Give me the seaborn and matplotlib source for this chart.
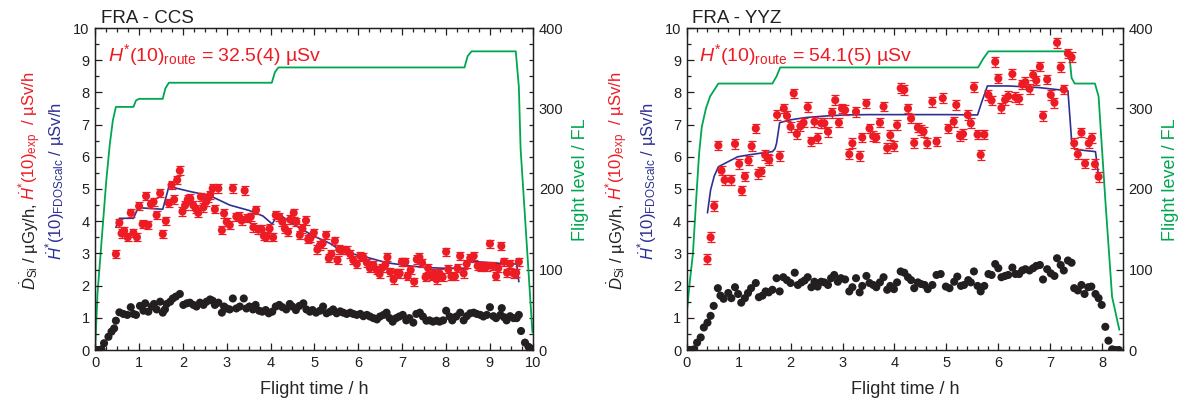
import matplotlib
matplotlib.use("Agg")
import matplotlib.pyplot as plt
import seaborn as sns
from matplotlib.ticker import MultipleLocator

# ---------------- FRA - CCS ----------------
ccs_t_fl = [0.0, 0.05, 0.15, 0.25, 0.33, 0.40, 0.47, 0.87, 0.93, 1.00, 1.54, 1.60, 1.68,
            4.03, 4.10, 4.18, 8.43, 8.50, 8.59, 9.60, 9.67, 9.71, 9.98]
ccs_fl = [5, 70, 140, 210, 255, 285, 302, 302, 310, 312, 312, 325, 332,
          332, 345, 351, 351, 365, 371, 371, 327, 250, 22]

ccs_t_dsi = [0.02, 0.06, 0.10, 0.14, 0.20, 0.30, 0.37, 0.43, 0.47, 0.55, 0.64, 0.73, 0.81, 0.87,
             0.93, 1.02, 1.10, 1.14, 1.21, 1.29, 1.34, 1.40, 1.48, 1.54, 1.59, 1.63, 1.71, 1.77,
             1.84, 1.93, 2.01, 2.09, 2.16, 2.24, 2.31, 2.39, 2.47, 2.54, 2.62, 2.68, 2.73, 2.81,
             2.89, 2.94, 3.00, 3.07, 3.14, 3.22, 3.30, 3.39, 3.45, 3.52, 3.60, 3.66, 3.74, 3.81,
             3.89, 3.96, 4.04, 4.12, 4.20, 4.27, 4.36, 4.44, 4.50, 4.58, 4.66, 4.75, 4.82, 4.90,
             4.96, 5.04, 5.13, 5.20, 5.28, 5.36, 5.43, 5.51, 5.59, 5.66, 5.74, 5.82, 5.89, 5.97,
             6.05, 6.12, 6.20, 6.27, 6.35, 6.43, 6.50, 6.58, 6.65, 6.72, 6.79, 6.87, 6.94, 7.02,
             7.10, 7.17, 7.26, 7.33, 7.41, 7.48, 7.56, 7.63, 7.71, 7.79, 7.86, 7.94, 8.01, 8.09,
             8.15, 8.24, 8.33, 8.41, 8.48, 8.56, 8.64, 8.71, 8.79, 8.86, 8.94, 9.01, 9.09, 9.15,
             9.25, 9.28, 9.33, 9.39, 9.47, 9.55, 9.62, 9.67, 9.72, 9.81, 9.89, 9.94]
ccs_dsi = [0.00, 0.00, 0.00, 0.02, 0.21, 0.41, 0.57, 0.67, 0.91, 1.17, 1.12, 1.09, 1.33, 1.12,
           1.09, 1.37, 1.22, 1.45, 1.19, 1.35, 1.43, 1.26, 1.50, 1.16, 1.26, 1.43, 1.50, 1.60,
           1.66, 1.74, 1.40, 1.45, 1.47, 1.40, 1.35, 1.47, 1.40, 1.50, 1.57, 1.53, 1.40, 1.47,
           1.16, 1.35, 1.29, 1.26, 1.60, 1.29, 1.35, 1.60, 1.29, 1.35, 1.26, 1.40, 1.22, 1.19,
           1.24, 1.14, 1.19, 1.35, 1.40, 1.33, 1.26, 1.43, 1.35, 1.24, 1.37, 1.45, 1.26, 1.19,
           1.24, 1.16, 1.22, 1.35, 1.14, 1.19, 1.26, 1.14, 1.20, 1.16, 1.12, 1.16, 1.12, 1.09,
           1.12, 1.05, 1.09, 1.04, 0.99, 0.95, 1.04, 1.09, 1.16, 0.99, 0.88, 0.99, 1.04, 1.09,
           0.92, 0.99, 0.85, 1.12, 1.16, 1.04, 0.91, 0.92, 0.88, 0.91, 0.88, 0.92, 1.22, 1.04,
           0.92, 1.04, 1.16, 0.92, 1.05, 1.14, 1.16, 1.12, 1.09, 1.04, 1.09, 1.33, 1.05, 0.99,
           1.09, 1.30, 1.02, 0.92, 1.05, 0.99, 0.99, 1.09, 0.59, 0.23, 0.10, 0.05]

ccs_t_exp = [0.47, 0.55, 0.60, 0.66, 0.74, 0.81, 0.87, 0.95, 1.00, 1.08, 1.16, 1.21, 1.27, 1.33,
             1.40, 1.48, 1.54, 1.61, 1.68, 1.74, 1.80, 1.87, 1.93, 1.99, 2.05, 2.11, 2.17, 2.24,
             2.30, 2.35, 2.41, 2.47, 2.53, 2.58, 2.62, 2.68, 2.73, 2.81, 2.89, 2.94, 3.00, 3.07,
             3.14, 3.22, 3.28, 3.34, 3.41, 3.47, 3.55, 3.61, 3.67, 3.72, 3.80, 3.85, 3.91, 3.98,
             4.06, 4.12, 4.20, 4.27, 4.33, 4.40, 4.45, 4.53, 4.59, 4.67, 4.73, 4.81, 4.86, 4.91,
             4.99, 5.07, 5.13, 5.19, 5.27, 5.33, 5.39, 5.47, 5.53, 5.57, 5.63, 5.74, 5.82, 5.89,
             5.97, 6.05, 6.12, 6.20, 6.27, 6.35, 6.43, 6.49, 6.54, 6.62, 6.67, 6.73, 6.81, 6.89,
             6.95, 7.00, 7.08, 7.13, 7.20, 7.28, 7.34, 7.40, 7.46, 7.54, 7.60, 7.68, 7.73, 7.79,
             7.86, 7.93, 8.01, 8.06, 8.13, 8.21, 8.27, 8.33, 8.41, 8.48, 8.56, 8.64, 8.73, 8.80,
             8.86, 8.94, 9.01, 9.07, 9.15, 9.20, 9.27, 9.33, 9.40, 9.47, 9.55, 9.61, 9.67]
ccs_exp = [2.98, 3.95, 3.62, 3.70, 3.50, 4.26, 3.64, 3.50, 4.47, 3.91, 4.78, 3.88, 4.53, 4.60,
           4.19, 4.87, 3.60, 4.01, 4.56, 5.12, 4.67, 5.28, 5.57, 4.30, 4.49, 4.67, 4.70, 4.49,
           4.38, 4.26, 4.76, 4.43, 4.60, 4.73, 4.81, 5.02, 4.37, 5.02, 3.72, 4.24, 3.98, 3.88,
           5.02, 4.14, 4.16, 4.02, 4.95, 4.09, 4.14, 3.81, 4.35, 3.74, 3.74, 3.54, 3.52, 3.77,
           3.50, 4.19, 4.14, 3.98, 3.77, 3.67, 4.05, 4.26, 3.98, 3.57, 3.77, 4.02, 3.44, 3.47,
           3.64, 3.12, 3.25, 3.31, 3.57, 2.85, 2.98, 3.39, 2.79, 3.12, 3.10, 3.10, 2.98, 2.79,
           2.67, 2.92, 2.88, 2.71, 2.54, 2.64, 2.48, 2.36, 2.54, 2.64, 2.88, 2.43, 2.19, 2.40,
           2.38, 2.74, 2.74, 2.29, 2.48, 2.12, 2.81, 2.88, 2.71, 2.26, 2.54, 2.29, 2.38, 2.19,
           2.38, 2.26, 3.05, 2.51, 2.29, 2.29, 2.54, 2.92, 2.38, 2.67, 2.85, 2.92, 2.61, 2.59,
           2.61, 2.59, 3.30, 2.61, 2.29, 2.54, 3.23, 2.74, 2.40, 2.67, 2.38, 2.40, 2.74]
ccs_err = 0.13

ccs_t_calc = [0.47, 0.55, 0.87, 0.98, 1.54, 1.68, 2.17, 2.62, 3.07, 3.52, 3.83, 4.04, 4.17,
              4.44, 4.75, 5.05, 5.36, 5.57, 5.66, 5.89, 6.20, 6.65, 7.19, 7.57, 7.95, 8.44,
              8.56, 8.71, 9.25, 9.62, 9.67]
ccs_calc = [3.81, 4.09, 4.09, 4.42, 4.37, 5.08, 4.92, 4.79, 4.50, 4.33, 4.16, 3.91, 4.24,
            3.98, 3.72, 3.50, 3.31, 3.12, 3.13, 2.98, 2.88, 2.71, 2.61, 2.56, 2.54, 2.54,
            2.78, 2.74, 2.69, 2.67, 2.12]

# ---------------- FRA - YYZ ----------------
yyz_t_fl = [0.0, 0.06, 0.12, 0.19, 0.24, 0.29, 0.37, 0.45, 0.61, 1.65, 1.73, 1.80, 5.61, 5.71,
            5.81, 7.36, 7.41, 7.47, 7.86, 7.93, 8.06, 8.19, 8.33]
yyz_fl = [45, 85, 120, 195, 245, 277, 300, 315, 331, 331, 340, 351, 351, 362,
          371, 371, 338, 331, 331, 315, 186, 66, 25]

yyz_t_dsi = [0.02, 0.06, 0.10, 0.14, 0.20, 0.27, 0.33, 0.40, 0.46, 0.52, 0.60, 0.65, 0.71, 0.80,
             0.86, 0.93, 0.99, 1.05, 1.12, 1.18, 1.24, 1.33, 1.39, 1.46, 1.52, 1.58, 1.65, 1.73,
             1.79, 1.86, 1.93, 2.00, 2.08, 2.14, 2.21, 2.27, 2.33, 2.40, 2.46, 2.52, 2.59, 2.65,
             2.72, 2.78, 2.84, 2.91, 2.97, 3.05, 3.13, 3.19, 3.26, 3.33, 3.38, 3.46, 3.52, 3.59,
             3.65, 3.72, 3.79, 3.86, 3.92, 3.99, 4.05, 4.12, 4.19, 4.26, 4.32, 4.38, 4.45, 4.51,
             4.58, 4.64, 4.73, 4.81, 4.89, 4.99, 5.06, 5.15, 5.21, 5.28, 5.34, 5.42, 5.47, 5.53,
             5.60, 5.66, 5.73, 5.81, 5.87, 5.94, 6.00, 6.06, 6.13, 6.19, 6.27, 6.33, 6.40, 6.46,
             6.52, 6.60, 6.67, 6.73, 6.80, 6.86, 6.94, 7.01, 7.08, 7.13, 7.20, 7.26, 7.34, 7.41,
             7.46, 7.53, 7.60, 7.66, 7.73, 7.79, 7.87, 7.93, 7.99, 8.06, 8.12, 8.19, 8.25, 8.32]
yyz_dsi = [0.00, 0.00, 0.00, 0.02, 0.23, 0.39, 0.70, 0.85, 1.06, 1.37, 1.92, 1.69, 1.59, 1.77,
           1.61, 1.95, 1.74, 1.47, 1.61, 1.77, 1.92, 2.08, 1.64, 1.69, 1.82, 1.79, 1.87, 2.23,
           1.82, 2.26, 2.17, 2.08, 2.40, 2.02, 2.10, 2.16, 2.26, 1.95, 2.12, 1.97, 2.12, 2.10,
           2.02, 2.23, 2.33, 2.12, 2.23, 2.19, 1.82, 1.95, 2.23, 1.79, 1.99, 2.30, 2.08, 2.02,
           1.95, 2.10, 2.26, 1.87, 1.99, 1.89, 2.10, 2.44, 2.40, 2.26, 2.17, 1.92, 2.10, 2.05,
           2.02, 1.89, 2.02, 2.33, 2.36, 1.97, 1.92, 2.12, 2.28, 1.99, 2.02, 2.17, 2.10, 2.44,
           1.99, 1.82, 1.99, 2.36, 2.33, 2.67, 2.54, 2.26, 2.30, 2.33, 2.56, 2.36, 2.36, 2.47,
           2.51, 2.47, 2.54, 2.61, 2.64, 2.19, 2.51, 2.38, 2.30, 2.85, 2.64, 2.47, 2.78, 2.71,
           1.92, 1.85, 2.02, 1.74, 1.95, 1.97, 1.74, 1.61, 1.40, 0.72, 0.29, 0.02, 0.00, 0.00]

yyz_t_exp = [0.40, 0.46, 0.53, 0.61, 0.67, 0.73, 0.86, 0.93, 1.01, 1.06, 1.12, 1.19, 1.25, 1.33,
             1.38, 1.44, 1.51, 1.56, 1.59, 1.74, 1.79, 1.87, 1.93, 2.00, 2.06, 2.12, 2.19, 2.25,
             2.33, 2.40, 2.46, 2.52, 2.59, 2.65, 2.72, 2.80, 2.86, 2.93, 2.99, 3.05, 3.13, 3.19,
             3.26, 3.33, 3.38, 3.46, 3.52, 3.59, 3.65, 3.72, 3.79, 3.86, 3.92, 3.99, 4.05, 4.12,
             4.19, 4.26, 4.32, 4.38, 4.45, 4.51, 4.56, 4.63, 4.73, 4.81, 4.93, 5.04, 5.14, 5.19,
             5.26, 5.32, 5.41, 5.47, 5.53, 5.60, 5.66, 5.73, 5.81, 5.87, 5.94, 6.00, 6.06, 6.13,
             6.19, 6.27, 6.33, 6.40, 6.46, 6.52, 6.60, 6.67, 6.73, 6.80, 6.86, 6.94, 7.01, 7.08,
             7.13, 7.20, 7.26, 7.34, 7.41, 7.46, 7.53, 7.60, 7.67, 7.74, 7.80, 7.86, 7.93]
yyz_exp = [2.82, 3.50, 4.47, 6.35, 5.57, 5.28, 5.28, 6.40, 5.78, 4.95, 5.39, 5.88, 6.33, 6.88,
           5.47, 5.54, 6.06, 5.95, 5.91, 7.30, 6.02, 7.50, 7.27, 6.93, 7.97, 6.71, 6.95, 7.06,
           7.54, 6.48, 7.09, 6.58, 7.04, 7.04, 6.78, 7.37, 7.76, 7.06, 7.50, 7.45, 6.08, 6.42,
           7.40, 6.02, 6.60, 7.66, 6.88, 6.64, 6.60, 7.06, 7.56, 6.27, 6.67, 6.33, 6.98, 8.13,
           8.08, 7.50, 7.19, 6.43, 6.91, 6.84, 6.78, 6.42, 7.71, 6.47, 7.82, 6.88, 7.09, 7.61,
           6.65, 6.71, 7.30, 7.04, 8.16, 6.69, 6.06, 6.69, 7.92, 7.75, 8.95, 8.43, 7.52, 7.77,
           7.88, 8.57, 7.85, 7.80, 8.25, 8.32, 8.11, 8.54, 8.37, 8.80, 7.27, 8.40, 7.92, 7.68,
           9.54, 8.78, 8.09, 9.21, 9.09, 6.42, 6.08, 6.75, 5.79, 6.42, 6.58, 5.77, 5.38]
yyz_err = 0.15

yyz_t_calc = [0.40, 0.46, 0.53, 0.61, 0.80, 0.98, 1.20, 1.41, 1.65, 1.70, 1.73, 1.79, 2.00,
              2.30, 2.70, 3.07, 3.50, 4.00, 4.50, 5.00, 5.60, 5.68, 5.79, 6.20, 6.78, 7.34,
              7.41, 7.47, 7.87, 7.93]
yyz_calc = [4.26, 4.97, 5.40, 5.69, 5.85, 6.00, 6.06, 6.11, 6.16, 6.25, 6.42, 7.06, 7.15,
            7.22, 7.27, 7.30, 7.31, 7.31, 7.31, 7.31, 7.30, 7.70, 8.20, 8.20, 8.15, 8.05,
            6.52, 6.23, 6.16, 5.38]

# ---------------- styling ----------------
RED = "#ED1C24"
BLUE = "#2E3192"
GREEN = "#00A651"
INK = "#231F20"
TICK_FS = 10.5
LABEL_FS = 13
YLABEL_FS = 12

sns.set_theme(style="ticks")
plt.rcParams.update({
    "font.family": ["Liberation Sans", "DejaVu Sans"],
    "mathtext.fontset": "custom",
    "mathtext.rm": "Liberation Sans",
    "mathtext.it": "Liberation Sans:italic",
    "mathtext.bf": "Liberation Sans:bold",
    "axes.edgecolor": INK,
    "axes.linewidth": 0.9,
    "text.color": INK,
    "xtick.color": INK,
    "ytick.color": INK,
})

W, H = 1181, 405
fig = plt.figure(figsize=(W / 100, H / 100), dpi=100)
fig.patch.set_facecolor("white")

ax_l = fig.add_axes([95.3 / W, 55 / H, 438 / W, 322 / H])
ax_r = fig.add_axes([686.7 / W, 55 / H, 436.3 / W, 322 / H])


def draw_panel(ax, t_fl, fl, t_dsi, dsi, t_exp, hexp, herr, t_calc, hcalc,
               xmax, xminor, title, route):
    ax2 = ax.twinx()
    sns.lineplot(x=t_fl, y=fl, ax=ax2, color=GREEN, lw=1.3, sort=False,
                 estimator=None)
    ax.set_zorder(ax2.get_zorder() + 1)
    ax.patch.set_visible(False)

    sns.lineplot(x=t_calc, y=hcalc, ax=ax, color=BLUE, lw=1.2, sort=False,
                 estimator=None, zorder=2)
    ax.errorbar(t_exp, hexp, yerr=herr, fmt="none", ecolor=RED, elinewidth=0.9,
                capsize=2.6, capthick=0.9, zorder=3)
    sns.scatterplot(x=t_exp, y=hexp, ax=ax, color=RED, s=34, edgecolor="none",
                    zorder=4)
    sns.scatterplot(x=t_dsi, y=dsi, ax=ax, color=INK, s=34, edgecolor="none",
                    zorder=4)

    ax.set_xlim(0, xmax)
    ax.set_ylim(0, 10)
    ax2.set_ylim(0, 400)
    ax.xaxis.set_major_locator(MultipleLocator(1))
    ax.xaxis.set_minor_locator(MultipleLocator(xminor))
    ax.yaxis.set_major_locator(MultipleLocator(1))
    ax.yaxis.set_minor_locator(MultipleLocator(0.5))
    ax2.yaxis.set_major_locator(MultipleLocator(100))
    ax2.yaxis.set_minor_locator(MultipleLocator(20))
    for a in (ax, ax2):
        a.tick_params(which="both", direction="in", width=0.9, labelsize=TICK_FS,
                      pad=4)
        a.tick_params(which="major", length=5)
        a.tick_params(which="minor", length=2.6)
        a.set_ylabel("")
    ax.tick_params(which="both", top=True, right=False)
    ax.set_xlabel("Flight time / h", fontsize=LABEL_FS, labelpad=8)

    ax.text(0.013, 1.017, title, transform=ax.transAxes, ha="left",
            va="baseline", fontsize=13.5, color=INK)
    ax.text(0.028, 0.898, r"$H^{*}$(10)$_{\rm route}$ = " + route + " µSv",
            transform=ax.transAxes, ha="left", va="baseline", fontsize=14,
            color=RED)
    return ax2


draw_panel(ax_l, ccs_t_fl, ccs_fl, ccs_t_dsi, ccs_dsi, ccs_t_exp, ccs_exp, ccs_err,
           ccs_t_calc, ccs_calc, 10, 0.25, "FRA - CCS", "32.5(4)")
draw_panel(ax_r, yyz_t_fl, yyz_fl, yyz_t_dsi, yyz_dsi, yyz_t_exp, yyz_exp, yyz_err,
           yyz_t_calc, yyz_calc, 8.4, 0.2, "FRA - YYZ", "54.1(5)")

renderer = fig.canvas.get_renderer()


def vertical_label(x_px, yc_px, pieces, size, gap=4):
    """Write coloured pieces bottom-to-top on one baseline, centred at yc_px."""
    items = []
    for s, c in pieces:
        t = fig.text(0, 0, s, color=c, fontsize=size, rotation=90,
                     rotation_mode="anchor", ha="left", va="baseline")
        items.append((t, t.get_window_extent(renderer).height))
    total = sum(h for _, h in items) + gap * (len(items) - 1)
    y = (H - yc_px) - total / 2
    for t, h in items:
        t.set_position((x_px / W, y / H))
        y += h + gap


line1 = [("$\\dot{D}_{\\rm Si}$ / µGy/h,", INK),
         ("$\\dot{H}^{*}$(10)$_{\\rm exp}$  / µSv/h", RED)]
line2 = [("$\\dot{H}^{*}$(10)$_{\\rm FDOScalc}$ / µSv/h", BLUE)]

for x1, x2, xg in ((36, 62, 585), (623, 654, 1175)):
    vertical_label(x1, 181, line1, YLABEL_FS)
    vertical_label(x2, 181, line2, YLABEL_FS)
    fig.text(xg / W, (H - 180) / H, "Flight level / FL", color=GREEN,
             fontsize=LABEL_FS, rotation=90, rotation_mode="anchor",
             ha="center", va="baseline")

fig.savefig("out.png", dpi=100, facecolor="white")
